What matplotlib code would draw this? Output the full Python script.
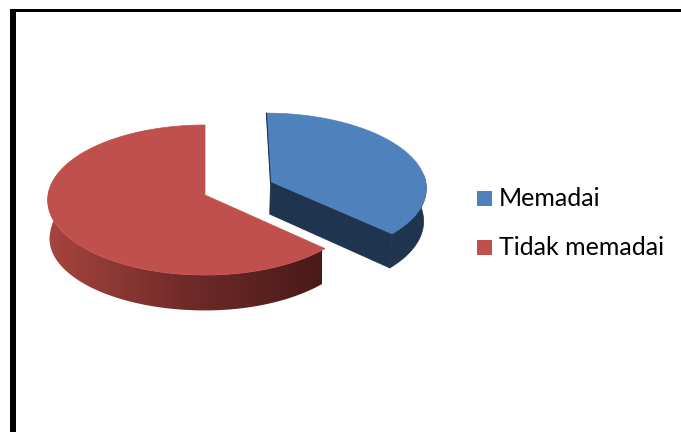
import numpy as np
import matplotlib
matplotlib.use("Agg")
import matplotlib.pyplot as plt
from matplotlib.colors import LinearSegmentedColormap
from matplotlib.patches import Polygon, Rectangle

categories = ["Memadai", "Tidak memadai"]
values = [37, 63]

BLUE = "#4F81BD"
BLUE_DARK = "#1F344F"
RED = "#C0504D"

# perspective of the tilted pie, in pixels
cx, cy, rx, ry, persp, depth = 205, 195, 157, 74.7, 0.067, 33
explode = 0.46


def project(u, v, z=0):
    s = 1 / (1 - persp * v)
    x = cx + rx * u * s * (1 - 0.012 * z)
    y = cy + ry * v * s + depth * z * s
    return np.column_stack([x, y])


def rim(start, end, off=(0, 0), z=0):
    t = np.radians(np.linspace(start, end, 200))
    return project(np.sin(t) + off[0], -np.cos(t) + off[1], z)


fig = plt.figure(figsize=(6.81, 4.32), dpi=100)
ax = fig.add_axes([0, 0, 1, 1])

angles = np.cumsum([0] + values) / sum(values) * 360
blue_start, blue_end = angles[0], angles[1]
red_start, red_end = angles[1], angles[2]

# red slice, side with a gradient first
low = rim(red_start, 280, z=1)
t = np.radians(np.linspace(red_start, 280, 200))
low[:, 1] += np.where(np.sin(t) < 0, 6 * (1 - np.abs(np.cos(t))), 0)  # left of the base sags a bit
side = np.vstack([rim(red_start, 280), low[::-1]])
clip = Polygon(side, closed=True, fc="none", ec="none", transform=ax.transData)
ax.add_patch(clip)
cmap = LinearSegmentedColormap.from_list("side", ["#A8443F", "#702B29", "#4A1A18"])
img = ax.imshow(np.linspace(0, 1, 256).reshape(1, -1), cmap=cmap, aspect="auto",
                extent=(47, 322, 320, 190), zorder=1)
img.set_clip_path(clip)
red_top = np.vstack([project(np.array([0.0]), np.array([0.0])), rim(red_start, red_end)])
ax.add_patch(Polygon(red_top, closed=True, fc=RED, ec=RED, lw=0.5, zorder=2))

# blue slice pulled out along its middle angle
mid = np.radians((blue_start + blue_end) / 2)
off = (explode * np.sin(mid), -explode * np.cos(mid))
apex = project(np.array([off[0]]), np.array([off[1]]))
apex_low = project(np.array([off[0]]), np.array([off[1]]), 1)
end_top = rim(blue_end, blue_end, off)[:1]
end_low = rim(blue_end, blue_end, off, 1)[:1]
cut = np.vstack([apex, end_top, end_low, apex_low])
ax.add_patch(Polygon(cut, closed=True, fc=BLUE_DARK, ec=BLUE_DARK, lw=0.5, zorder=3))
blue_side = np.vstack([rim(85, blue_end, off), rim(85, blue_end, off, 1)[::-1]])
ax.add_patch(Polygon(blue_side, closed=True, fc=BLUE_DARK, ec=BLUE_DARK, lw=0.5, zorder=3))
blue_top = np.vstack([apex, rim(blue_start, blue_end, off)])
ax.add_patch(Polygon(blue_top, closed=True, fc=BLUE, ec=BLUE, lw=0.5, zorder=4))
left_edge = np.vstack([apex, rim(blue_start, blue_start, off)[:1]])
ax.plot(left_edge[:, 0], left_edge[:, 1], color=BLUE_DARK, lw=0.8, zorder=5)

# legend
for i, (name, color) in enumerate(zip(categories, [BLUE, RED])):
    y = 198 + i * 49.5
    ax.add_patch(Rectangle((477, y - 7.5), 15, 15, fc=color, ec="none"))
    ax.text(499, y, name, family="Lato", fontsize=18, color="black", va="center", ha="left")

# frame of the pasted picture
ax.add_patch(Rectangle((10, 9), 5.5, 423, fc="black", ec="none"))
ax.add_patch(Rectangle((10, 9), 671, 3, fc="black", ec="none"))

ax.set_xlim(0, 681)
ax.set_ylim(432, 0)
ax.axis("off")
fig.savefig("out.png", dpi=100)
